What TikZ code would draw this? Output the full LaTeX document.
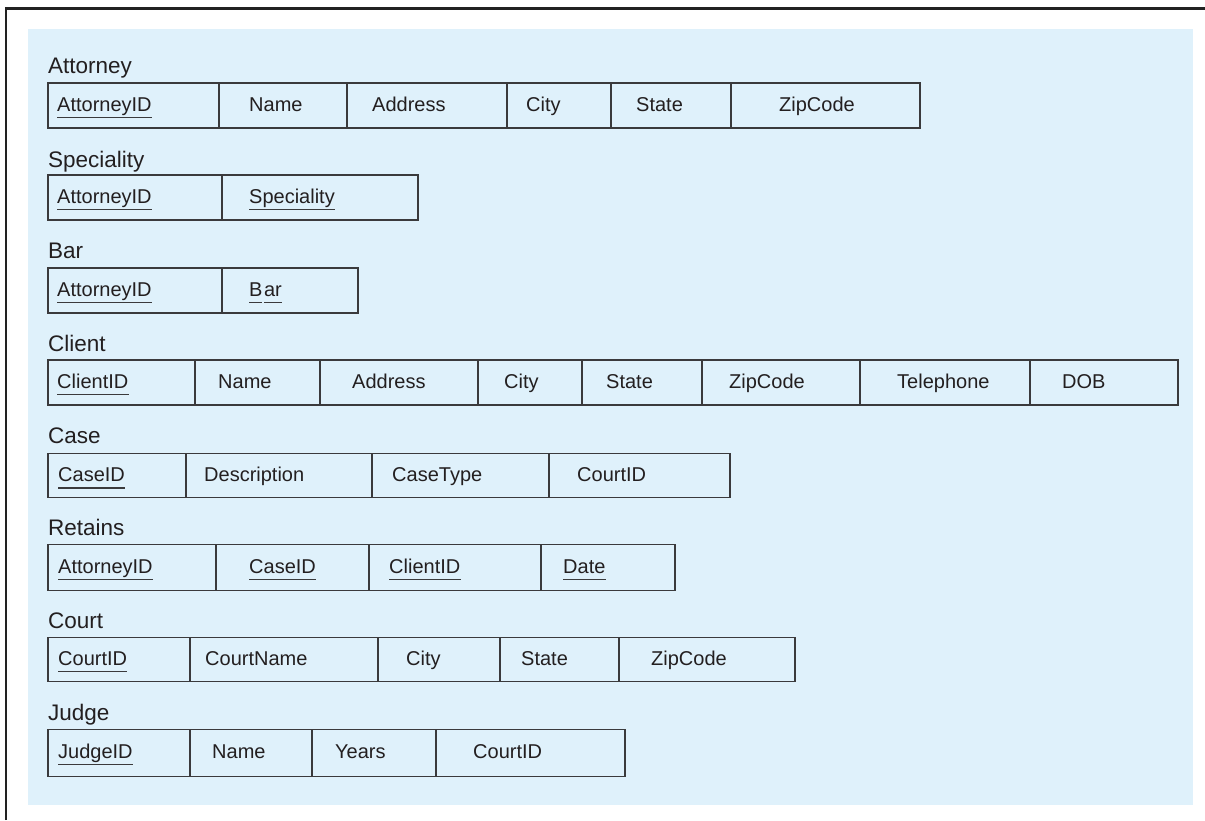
\documentclass[tikz,border=0pt]{standalone}
\usepackage{fontspec}
\setmainfont{Liberation Sans}
\definecolor{panelblue}{RGB}{223,241,251}
\definecolor{txt}{RGB}{35,31,32}
\definecolor{rule}{RGB}{58,58,60}
\definecolor{frame}{RGB}{34,34,34}
\tikzset{
  cellline/.style={draw=rule, line width=1.3pt},
  celltext/.style={inner sep=0pt, anchor=base west, text=txt, font=\fontsize{20}{24}\selectfont},
  titletext/.style={inner sep=0pt, anchor=base west, text=txt, font=\fontsize{22.5}{27}\selectfont},
  ulline/.style={draw=rule, line width=1.2pt},
}
\newcommand\ulnode[1]{\draw[ulline] ([yshift=-6.3pt]#1.base west) -- ([yshift=-6.3pt]#1.base east);}
\newcommand\tablebox[3]{% #1 top, #2 bottom, #3 list of x
  \foreach \xa/\xb in {#3} {\draw[cellline] (\xa,#1) rectangle (\xb,#2);}
}
\begin{document}
\begin{tikzpicture}[x=1pt,y=-1pt]
\useasboundingbox (0,0) rectangle (1205,820);
% panel and frame
\fill[panelblue] (28,29) rectangle (1193,805);
\draw[frame, line width=2.4pt, line cap=butt, line join=miter] (6.2,820) -- (6.2,8.3) -- (1205,8.3);

% Attorney
\node[titletext] (tAtt) at (48,73.3) {Attorney};
\tablebox{83}{128}{48/219,219/347,347/507,507/611,611/731,731/920}
\node[celltext] (a1) at (57,111) {AttorneyID}; \ulnode{a1}
\node[celltext] (a2) at (249,111) {Name};
\node[celltext] (a3) at (372,111) {Address};
\node[celltext] (a4) at (526,111) {City};
\node[celltext] (a5) at (636,111) {State};
\node[celltext] (a6) at (779,111) {ZipCode};

% Speciality
\node[titletext] (tSpec) at (48,167.7) {Speciality};
\tablebox{175}{220}{48/222,222/418}
\node[celltext] (s1) at (57,203) {AttorneyID}; \ulnode{s1}
\node[celltext] (s2) at (249,203) {Speciality}; \ulnode{s2}

% Bar
\node[titletext] (tBar) at (48,258.3) {Bar};
\tablebox{268}{313}{48/222,222/358}
\node[celltext] (b1) at (57,296) {AttorneyID}; \ulnode{b1}
\node[celltext] (b2) at (249,296) {B\kern1.5pt ar};
\draw[ulline] ([yshift=-6.3pt]b2.base west) -- ([yshift=-6.3pt,xshift=13.3pt]b2.base west);
\draw[ulline] ([yshift=-6.3pt,xshift=15.2pt]b2.base west) -- ([yshift=-6.3pt]b2.base east);

% Client
\node[titletext] (tCli) at (48,351) {Client};
\tablebox{360}{405}{48/195,195/320,320/478,478/582,582/702,702/860,860/1030,1030/1178}
\node[celltext] (c1) at (57,388) {ClientID}; \ulnode{c1}
\node[celltext] (c2) at (218,388) {Name};
\node[celltext] (c3) at (352,388) {Address};
\node[celltext] (c4) at (504,388) {City};
\node[celltext] (c5) at (606,388) {State};
\node[celltext] (c6) at (729,388) {ZipCode};
\node[celltext] (c7) at (897,388) {Telephone};
\node[celltext] (c8) at (1062,388) {DOB};

% Case
\node[titletext] (tCase) at (48,443.3) {Case};
\tablebox{453.3}{497.7}{48/186,186/372,372/549,549/730}
\node[celltext] (k1) at (58,481.7) {CaseID}; \ulnode{k1}
\node[celltext] (k2) at (204,481.7) {Description};
\node[celltext] (k3) at (392,481.7) {CaseType};
\node[celltext] (k4) at (577,481.7) {CourtID};

% Retains
\node[titletext] (tRet) at (48,535) {Retains};
\tablebox{544.3}{590.7}{48/216,216/369,369/541,541/675}
\node[celltext] (r1) at (58,573) {AttorneyID}; \ulnode{r1}
\node[celltext] (r2) at (249,573) {CaseID}; \ulnode{r2}
\node[celltext] (r3) at (389,573) {ClientID}; \ulnode{r3}
\node[celltext] (r4) at (563,573) {Date}; \ulnode{r4}

% Court
\node[titletext] (tCourt) at (48,628.3) {Court};
\tablebox{637.3}{681.7}{48/190,190/378,378/500,500/619,619/795}
\node[celltext] (o1) at (58,665.5) {CourtID}; \ulnode{o1}
\node[celltext] (o2) at (205,665.5) {CourtName};
\node[celltext] (o3) at (406,665.5) {City};
\node[celltext] (o4) at (521,665.5) {State};
\node[celltext] (o5) at (651,665.5) {ZipCode};

% Judge
\node[titletext] (tJudge) at (48,720) {Judge};
\tablebox{729.3}{776.7}{48/190,190/312,312/436,436/625}
\node[celltext] (j1) at (58,758) {JudgeID}; \ulnode{j1}
\node[celltext] (j2) at (212,758) {Name};
\node[celltext] (j3) at (335,758) {Years};
\node[celltext] (j4) at (473,758) {CourtID};
\end{tikzpicture}
\end{document}
